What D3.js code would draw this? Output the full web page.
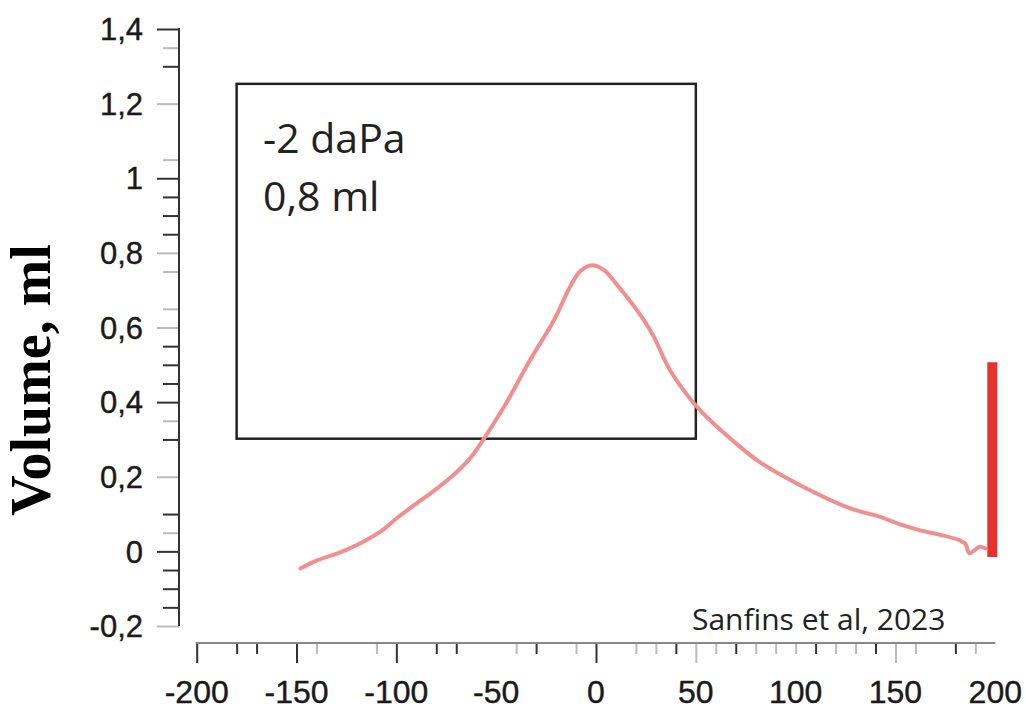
<!DOCTYPE html>
<html>
<head>
<meta charset="utf-8">
<script src="https://cdn.jsdelivr.net/npm/d3@7"></script>
<style>
  html, body { margin: 0; padding: 0; background: #fff; }
  svg { display: block; }
</style>
</head>
<body>
<svg id="chart" width="1026" height="709"></svg>
<script>
// ---- data ----
const pressure = [-148, -140, -125, -108, -100, -90, -83, -73, -63, -56, -46, -33, -21, -13, -8, -2, 4, 10, 24, 29, 37, 49, 57, 70, 82, 102, 127, 142, 152, 162, 172, 182, 185, 187, 190, 192, 195];
const volume   = [-0.046, -0.025, 0.004, 0.053, 0.088, 0.128, 0.155, 0.197, 0.250, 0.303, 0.388, 0.513, 0.620, 0.709, 0.750, 0.767, 0.754, 0.718, 0.620, 0.575, 0.486, 0.397, 0.352, 0.290, 0.239, 0.178, 0.116, 0.093, 0.073, 0.057, 0.045, 0.030, 0.020, -0.005, 0.005, 0.012, 0.008];

const markerPressure = [198.5];
const markerVolume = [-0.015, 0.507];

const annotationBoxX = [-180, 50];
const annotationBoxY = [0.302, 1.253];
const annotationLines = ["-2 daPa", "0,8 ml"];
const creditText = "Sanfins et al, 2023";
const yTitle = "Volume, ml";

const xTickValues = [-200, -150, -100, -50, 0, 50, 100, 150, 200];
const xTickLabels = ["-200", "-150", "-100", "-50", "0", "50", "100", "150", "200"];
const xMajorDark = [-200, -150, -100, 0];
const xMajorFaint = [50, 150];
const xMinorDark = [-180, -170, -80, -70, -30, 40, 70, 110, 140, 180];
const xMinorFaint = [-140, -110, -40, -10, 20, 30, 60, 80, 90, 100, 120, 130, 160, 190];

const yTickValues = [-0.2, 0, 0.2, 0.4, 0.6, 0.8, 1, 1.2, 1.4];
const yTickLabels = ["-0,2", "0", "0,2", "0,4", "0,6", "0,8", "1", "1,2", "1,4"];
const yMajorDark = [1.4, 1, 0.4, 0];
const yMajorFaint = [1.2, 0.8, 0.6, 0.2, -0.2];
const yMinorDark = [1.3, 0.95, 0.9, 0.85, 0.55, 0.5, 0.45, 0.3, 0.1, -0.05, -0.1, -0.15];
const yMinorFaint = [1.35, 1.05, 0.75, 0.65, 0.35, 0.05];

// ---- scales ----
const x = d3.scaleLinear().domain([-200, 200]).range([196.7, 995.3]);
const y = d3.scaleLinear().domain([-0.2, 1.4]).range([626, 29]);

const svg = d3.select("#chart");

const dark = "#333";
const faint = "#bbb";

// ---- y axis ----
const yAxisX = 179;
function yTicks(vals, len, color) {
  const g = svg.append("g").attr("transform", `translate(${yAxisX},0)`)
    .call(d3.axisLeft(y).tickValues(vals).tickSize(len).tickSizeOuter(0).tickFormat(""));
  g.select(".domain").remove();
  g.selectAll(".tick line").attr("stroke", color).attr("stroke-width", 2);
}
yTicks(yMajorFaint, 22, faint);
yTicks(yMinorFaint, 16, faint);
yTicks(yMinorDark, 16, dark);
yTicks(yMajorDark, 22, dark);
svg.append("line")
  .attr("x1", yAxisX).attr("x2", yAxisX)
  .attr("y1", y(1.4) - 1).attr("y2", y(-0.2))
  .attr("stroke", dark).attr("stroke-width", 2);

svg.append("g").selectAll("text").data(yTickValues).join("text")
  .attr("x", 143)
  .attr("y", d => y(d))
  .attr("dy", "0.36em")
  .attr("text-anchor", "end")
  .attr("font-family", "Liberation Sans, Arial, sans-serif")
  .attr("font-size", 31)
  .attr("fill", "#1a1a1a")
  .attr("stroke", "#1a1a1a")
  .attr("stroke-width", 0.4)
  .text((d, i) => yTickLabels[i]);

// ---- x axis ----
const xAxisY = 643;
function xTicks(vals, len, color) {
  const g = svg.append("g").attr("transform", `translate(0,${xAxisY})`)
    .call(d3.axisBottom(x).tickValues(vals).tickSize(len).tickSizeOuter(0).tickFormat(""));
  g.select(".domain").remove();
  g.selectAll(".tick line").attr("stroke", color).attr("stroke-width", 2);
}
xTicks(xMajorFaint, 20, faint);
xTicks(xMinorFaint, 11, faint);
xTicks(xMinorDark, 11, dark);
xTicks(xMajorDark, 20, dark);
svg.append("line")
  .attr("x1", x(-200) - 1).attr("x2", x(200))
  .attr("y1", xAxisY).attr("y2", xAxisY)
  .attr("stroke", "#888").attr("stroke-width", 2);

svg.append("g").selectAll("text").data(xTickValues).join("text")
  .attr("x", d => x(d))
  .attr("y", 703)
  .attr("text-anchor", "middle")
  .attr("font-family", "Liberation Sans, Arial, sans-serif")
  .attr("font-size", 32)
  .attr("fill", "#1a1a1a")
  .attr("stroke", "#1a1a1a")
  .attr("stroke-width", 0.4)
  .text((d, i) => xTickLabels[i]);

// ---- y title ----
svg.append("text")
  .attr("transform", `translate(50,${380}) rotate(-90)`)
  .attr("text-anchor", "middle")
  .attr("font-family", "Liberation Serif, Times New Roman, serif")
  .attr("font-weight", "bold")
  .attr("font-size", 56)
  .attr("fill", "#000")
  .text(yTitle);

// ---- annotation box ----
svg.append("rect")
  .attr("x", x(annotationBoxX[0]))
  .attr("y", y(annotationBoxY[1]))
  .attr("width", x(annotationBoxX[1]) - x(annotationBoxX[0]))
  .attr("height", y(annotationBoxY[0]) - y(annotationBoxY[1]))
  .attr("fill", "none")
  .attr("stroke", "#222")
  .attr("stroke-width", 2.5);

svg.append("g").selectAll("text").data(annotationLines).join("text")
  .attr("x", 263)
  .attr("y", (d, i) => 153 + i * 58)
  .attr("font-family", "Open Sans, sans-serif")
  .attr("font-size", 41)
  .attr("fill", "#222")
  .text(d => d);

// ---- curve ----
const pts = pressure.map((p, i) => [p, volume[i]]);
svg.append("path")
  .datum(pts)
  .attr("fill", "none")
  .attr("stroke", "#f28e8e")
  .attr("stroke-width", 4)
  .attr("stroke-linejoin", "round")
  .attr("stroke-linecap", "round")
  .attr("d", d3.line().x(d => x(d[0])).y(d => y(d[1])).curve(d3.curveCatmullRom));

// ---- red marker ----
svg.append("line")
  .attr("x1", x(markerPressure[0])).attr("x2", x(markerPressure[0]))
  .attr("y1", y(markerVolume[0])).attr("y2", y(markerVolume[1]))
  .attr("stroke", "#e8302f")
  .attr("stroke-width", 10);

// ---- credit ----
svg.append("text")
  .attr("x", 692)
  .attr("y", 630)
  .attr("font-family", "Open Sans, sans-serif")
  .attr("font-size", 30)
  .attr("fill", "#222")
  .text(creditText);
</script>
</body>
</html>
